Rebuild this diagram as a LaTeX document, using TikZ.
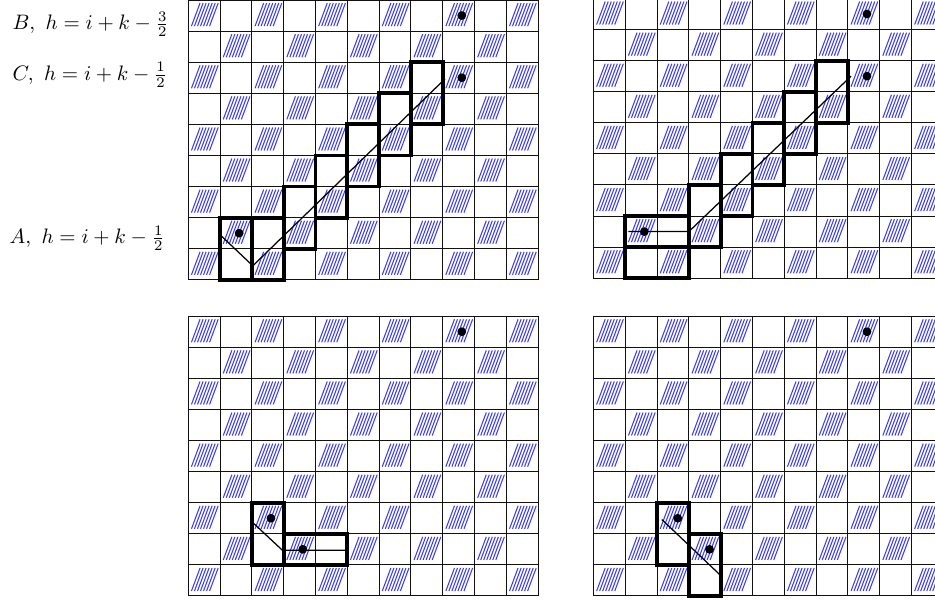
\documentclass[tikz,border=0pt]{standalone}
\usepackage{amsmath,amssymb}
\usepackage{tikz}
\usepackage{xcolor}
\usetikzlibrary{positioning}
\definecolor{hatchblue}{HTML}{3C3CF0}
\definecolor{ink}{HTML}{111111}
\tikzset{
  gridline/.style={line width=0.5pt,draw=ink},
  hatchline/.style={line width=0.5pt,draw=hatchblue},
  domino/.style={line width=1.8pt,draw=black},
  pathline/.style={line width=0.6pt,draw=black},
  site/.style={fill=black},
  eqlabel/.style={anchor=base west,inner sep=0pt}
}

\begin{document}
\begin{tikzpicture}[x=0.534cm,y=0.522cm]
    \path[use as bounding box] (-5.92,-10.30) rectangle (23.48,9.0);

    % the four boards: hatched cells, grid and the far site
    \foreach \bx/\by in {0/0, 12.74/0.05, 0/-10.17, 12.74/-10.17}{
      \begin{scope}[shift={(\bx,\by)}]
        \foreach \r in {0,...,8}{
          \foreach \c in {0,...,10}{
            \pgfmathtruncatemacro{\odd}{mod(\c+\r,2)}
            \ifnum\odd=0
              \draw[hatchline] \foreach \k in {0,...,6}{
                ({\c+0.10+0.095*\k},{\r+0.16}) -- ({\c+0.37+0.095*\k},{\r+0.90})};
            \fi
          }
        }
        \foreach \c in {0,...,11}{
          \draw[gridline] (\c,0) -- (\c,9);
        }
        \foreach \r in {0,...,9}{
          \draw[gridline] (0,\r) -- (11,\r);
        }
        \fill[site] (8.6,8.5) circle (2.1pt);
      \end{scope}
    }

    % top left
    \draw[domino] (1,0) rectangle (2,2);
    \draw[domino] (2,0) rectangle (3,2);
    \foreach \c in {3,...,7}{
      \draw[domino] (\c,\c-2) rectangle (\c+1,\c);
    }
    \draw[pathline] (1.05,1.4) -- (2.03,0.45) -- (8.07,6.46);
    \fill[site] (1.6,1.5) circle (2.1pt);
    \fill[site] (8.6,6.5) circle (2.1pt);

    \node[eqlabel] (labB) at (-5.54,8.05) {$B,\ h=i+k-\frac{3}{2}$};
    \node[eqlabel] (labC) at (-5.54,6.42) {$C,\ h=i+k-\frac{1}{2}$};
    \node[eqlabel] (labA) at (-5.63,1.16) {$A,\ h=i+k-\frac{1}{2}$};

    % top right
    \begin{scope}[shift={(12.74,0.05)}]
      \draw[domino] (1,1) rectangle (3,2);
      \draw[domino] (1,0) rectangle (3,1);
      \foreach \c in {3,...,7}{
        \draw[domino] (\c,\c-2) rectangle (\c+1,\c);
      }
      \draw[pathline] (1.1,1.5) -- (3,1.5) -- (8.1,6.5);
      \fill[site] (1.6,1.5) circle (2.1pt);
      \fill[site] (8.6,6.5) circle (2.1pt);
    \end{scope}

    % bottom left
    \begin{scope}[shift={(0,-10.17)}]
      \draw[domino] (2,1) rectangle (3,3);
      \draw[domino] (3,1) rectangle (5,2);
      \draw[pathline] (2.04,2.35) -- (2.96,1.47) -- (5,1.47);
      \fill[site] (2.6,2.5) circle (2.1pt);
      \fill[site] (3.6,1.5) circle (2.1pt);
    \end{scope}

    % bottom right
    \begin{scope}[shift={(12.74,-10.17)}]
      \draw[domino] (2,1) rectangle (3,3);
      \draw[domino] (3,0) rectangle (4,2);
      \draw[pathline] (2.15,2.46) -- (4.03,0.63);
      \fill[site] (2.65,2.5) circle (2.1pt);
      \fill[site] (3.65,1.5) circle (2.1pt);
    \end{scope}
\end{tikzpicture}
\end{document}
